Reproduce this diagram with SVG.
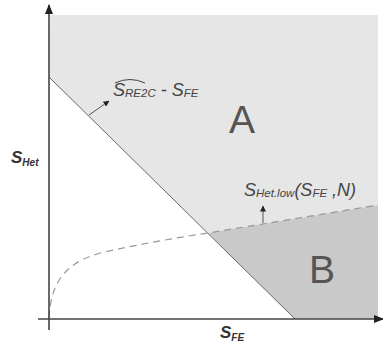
<svg xmlns="http://www.w3.org/2000/svg" width="383" height="349" viewBox="0 0 383 349">
<defs>
<style>
.axis{stroke:#444;stroke-width:1.6;fill:none}
.bound{stroke:#666;stroke-width:1;fill:none}
.dash{stroke:#999;stroke-width:1.2;fill:none;stroke-dasharray:7,5}
.ptr{stroke:#555;stroke-width:1;fill:none}
.lbl{font-family:"Liberation Sans",Arial,sans-serif;font-style:italic;fill:#444}
.ax{font-family:"Liberation Sans",Arial,sans-serif;font-style:italic;font-weight:bold;fill:#333}
.big{font-family:"Liberation Sans",Arial,sans-serif;fill:#555;font-size:39px}
</style>
<marker id="ah" markerWidth="10" markerHeight="10" refX="9" refY="5" orient="auto" markerUnits="userSpaceOnUse"><path d="M0,1 L10,5 L0,9 Z" fill="#222"/></marker>
<marker id="sh" markerWidth="6" markerHeight="6" refX="5.5" refY="3" orient="auto" markerUnits="userSpaceOnUse"><path d="M0,0 L6,3 L0,6 Z" fill="#222"/></marker>
</defs>
<g id="regionA"><polygon points="50,15 378,15 378,205 208,233 49,77" fill="#e6e6e6"/></g>
<g id="regionB"><polygon points="208,233 378,205 378,319 295,319" fill="#c9c9c9"/></g>
<g id="connectors">
<line class="bound" x1="49" y1="77" x2="295" y2="319"/>
<path class="dash" d="M49,318 C51,285 62,264 100,253 C140,244 175,238 208,233 L378,205"/>
<line class="ptr" x1="89" y1="115" x2="109" y2="101" marker-end="url(#sh)"/>
<line class="ptr" x1="263" y1="223" x2="263" y2="206" marker-end="url(#sh)"/>
<line class="axis" x1="49" y1="330" x2="49" y2="5" marker-end="url(#ah)"/>
<line class="axis" x1="38" y1="319" x2="383" y2="319" marker-end="url(#ah)"/>
</g>
<g id="labelA"><text class="big" x="242" y="133" text-anchor="middle">A</text></g>
<g id="labelB"><text class="big" x="322" y="283" text-anchor="middle">B</text></g>
<g id="yLabel"><text class="ax" x="11" y="163" font-size="17">S<tspan font-size="10" dy="3">Het</tspan></text></g>
<g id="xLabel"><text class="ax" x="220" y="338" font-size="17">S<tspan font-size="10" dy="3">FE</tspan></text></g>
<g id="boundLabel">
<text class="lbl" x="113" y="96" font-size="18">S<tspan font-size="11.5" dy="1">RE2C</tspan><tspan font-size="18" dy="-1"> - S</tspan><tspan font-size="11.5" dy="1">FE</tspan></text>
<path d="M115,83 Q130,76 145,83" fill="none" stroke="#444" stroke-width="1"/>
</g>
<g id="lowLabel"><text class="lbl" x="244" y="196" font-size="18">S<tspan font-size="11.5" dy="1">Het.low</tspan><tspan font-size="18" dy="-1">(S</tspan><tspan font-size="11.5" dy="1">FE</tspan><tspan font-size="18" dy="-1"> ,N)</tspan></text></g>
</svg>
